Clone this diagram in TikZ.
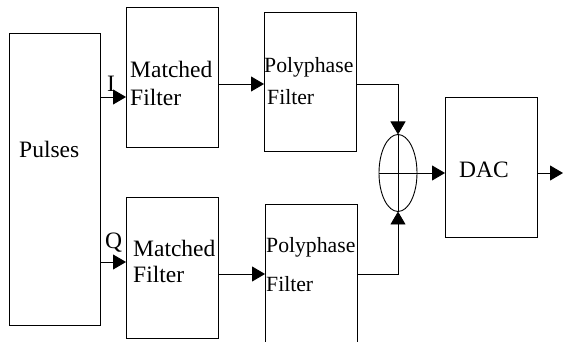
\documentclass[tikz,border=0pt]{standalone}
\usepackage{fontspec}
\setmainfont{Liberation Serif}
\usetikzlibrary{shapes.geometric,arrows.meta}
\begin{document}
\begin{tikzpicture}[x=1pt,y=-1pt,
  blk/.style={draw, line width=0.9pt, inner sep=0pt, outer sep=0pt, anchor=north west},
  txt/.style={anchor=base west, inner sep=0pt, font=\fontsize{23.5}{27}\selectfont},
  ptxt/.style={anchor=base west, inner sep=0pt, font=\fontsize{21.7}{25}\selectfont},
  arr/.style={line width=0.9pt, -{Triangle[length=13pt,width=15pt]}},
  ln/.style={line width=0.9pt}]
\clip (0,0) rectangle (563,342);
% blocks
\node[blk, minimum width=91pt, minimum height=292pt] (pulses) at (9,33) {};
\node[blk, minimum width=92pt, minimum height=140pt] (mf1) at (126,7) {};
\node[blk, minimum width=92pt, minimum height=141pt] (mf2) at (126,197) {};
\node[blk, minimum width=92pt, minimum height=139pt] (pp1) at (264,12) {};
\node[blk, minimum width=92pt, minimum height=170pt] (pp2) at (265,204) {};
\node[blk, minimum width=92pt, minimum height=140pt] (dac) at (445,97) {};
\node[draw, ellipse, line width=0.9pt, inner sep=0pt, outer sep=0pt,
      minimum width=38pt, minimum height=77pt] (sum) at (398,173) {};
% texts
\node[txt] (tpulses) at (19,158) {Pulses};
\node[txt] (tmf1a) at (130,78) {Matched};
\node[txt] (tmf1b) at (130,106) {Filter};
\node[txt] (tmf2a) at (133,257) {Matched};
\node[txt] (tmf2b) at (133,283) {Filter};
\node[ptxt] (tpp1a) at (264,73) {Polyphase};
\node[ptxt] (tpp1b) at (267,105) {Filter};
\node[ptxt] (tpp2a) at (266,253) {Polyphase};
\node[ptxt] (tpp2b) at (266,291) {Filter};
\node[txt] (tdac) at (459,178) {DAC};
\node[txt] (tI) at (107,92) {I};
\node[txt] (tQ) at (105,248) {Q};
% levels
\coordinate (yI) at (0,97);
\coordinate (yQ) at (0,262);
\coordinate (y1) at (0,84);
\coordinate (y2) at (0,274);
\coordinate (out) at (563,173);
% connectors
\draw[arr] (pulses.east |- yI) -- (mf1.west |- yI);
\draw[arr] (pulses.east |- yQ) -- (mf2.west |- yQ);
\draw[arr] (mf1.east |- y1) -- (pp1.west |- y1);
\draw[arr] (mf2.east |- y2) -- (pp2.west |- y2);
\draw[arr] (pp1.east |- y1) -| (sum.north);
\draw[arr] (pp2.east |- y2) -| (sum.south);
\draw[ln] (sum.north) -- (sum.south);
\draw[ln] (sum.west) -- (sum.east);
\draw[arr] (sum.east) -- (dac.west |- sum.east);
\draw[arr] (dac.east |- out) -- (out);
\end{tikzpicture}
\end{document}
